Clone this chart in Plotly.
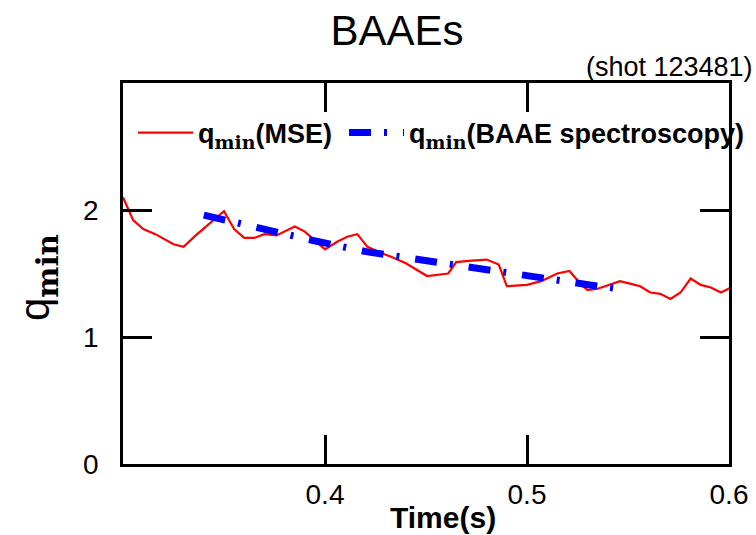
import plotly.graph_objects as go

# q_min from MSE (red)
t_mse = [0.300, 0.305, 0.310, 0.316, 0.325, 0.330, 0.336, 0.341, 0.350, 0.355,
         0.360, 0.365, 0.370, 0.376, 0.385, 0.390, 0.400, 0.406, 0.411, 0.416,
         0.421, 0.428, 0.433, 0.440, 0.4505, 0.461, 0.465, 0.471, 0.480, 0.486,
         0.490, 0.500, 0.507, 0.515, 0.521, 0.527, 0.530, 0.535, 0.540, 0.546,
         0.551, 0.556, 0.561, 0.566, 0.571, 0.576, 0.581, 0.586, 0.591, 0.596,
         0.601]
q_mse = [2.10, 1.92, 1.85, 1.81, 1.73, 1.71, 1.80, 1.87, 1.99, 1.85,
         1.78, 1.78, 1.81, 1.80, 1.87, 1.83, 1.69, 1.75, 1.79, 1.81,
         1.71, 1.66, 1.63, 1.58, 1.48, 1.50, 1.59, 1.60, 1.61, 1.57,
         1.40, 1.41, 1.44, 1.50, 1.52, 1.41, 1.37, 1.38, 1.41, 1.44,
         1.42, 1.40, 1.35, 1.34, 1.30, 1.35, 1.46, 1.41, 1.39, 1.35,
         1.39]

# q_min from BAAE spectroscopy (blue)
t_baae = [0.340, 0.366, 0.394, 0.421, 0.450, 0.476, 0.503, 0.531, 0.550]
q_baae = [1.96, 1.86, 1.76, 1.67, 1.60, 1.53, 1.47, 1.41, 1.37]

x_ticks = [0.4, 0.5, 0.6]
y_ticks = [0, 1, 2]

SANS = "Liberation Sans, Arial, sans-serif"
MIN = '<span style="font-family:DejaVu Serif;font-weight:bold">min</span>'

fig = go.Figure()
fig.add_trace(go.Scatter(
    x=t_mse, y=q_mse, mode="lines",
    line=dict(color="#ff0000", width=2.2),
    name="q<sub>" + MIN + "</sub>(MSE)",
    legend="legend",
))
fig.add_trace(go.Scatter(
    x=t_baae, y=q_baae, mode="lines",
    line=dict(color="#0000ff", width=7, dash="22px,13px,3px,16px"),
    name="q<sub>" + MIN + "</sub>(BAAE spectroscopy)",
    legend="legend2",
))

axis_common = dict(
    showline=True, linecolor="black", linewidth=2.5, mirror="ticks",
    ticks="inside", ticklen=29, tickwidth=2.5, tickcolor="black",
    showgrid=False, zeroline=False, automargin=False,
    tickfont=dict(family=SANS, size=28, color="black"),
)

fig.update_xaxes(range=[0.3, 0.6], tickvals=x_ticks,
                 ticktext=[str(v) for v in x_ticks],
                 ticklabelstandoff=4, **axis_common)
fig.update_yaxes(range=[0, 3], tickvals=y_ticks,
                 ticktext=[str(v) for v in y_ticks],
                 ticklabelstandoff=16, **axis_common)

legend_common = dict(
    orientation="h", y=(464 - 133) / 381, xanchor="left", yanchor="middle",
    bgcolor="rgba(0,0,0,0)",
    font=dict(family=SANS, size=27, color="black", weight="bold"),
    itemwidth=55,
)

fig.update_layout(
    width=756, height=535,
    margin=dict(l=123, r=27, t=83, b=71, autoexpand=False),
    paper_bgcolor="white", plot_bgcolor="white",
    showlegend=True,
    legend=dict(x=10 / 606, **legend_common),
    legend2=dict(x=(344 - 123) / 606, **legend_common),
    title=dict(
        text="BAAEs", xref="container", x=397 / 756, xanchor="center",
        yref="container", y=1 - 30 / 535, yanchor="middle",
        font=dict(family=SANS, size=42, color="black"),
    ),
)

fig.add_annotation(
    text="(shot 123481)", xref="paper", yref="paper",
    x=(755 - 123) / 606, y=(464 - 67) / 381, xanchor="right", yanchor="middle",
    showarrow=False, font=dict(family=SANS, size=27, color="black"),
)
fig.add_annotation(
    text="<b>Time(s)</b>", xref="paper", yref="paper",
    x=(443 - 123) / 606, y=(464 - 517) / 381, xanchor="center", yanchor="middle",
    showarrow=False, font=dict(family=SANS, size=30, color="black"),
)
fig.add_annotation(
    text="q<sub>" + MIN + "</sub>",
    xref="paper", yref="paper",
    x=(38 - 123) / 606, y=(464 - 278) / 381, xanchor="center", yanchor="middle",
    textangle=-90, showarrow=False,
    font=dict(family=SANS, size=42, color="black"),
)

fig.write_html("out.html")
